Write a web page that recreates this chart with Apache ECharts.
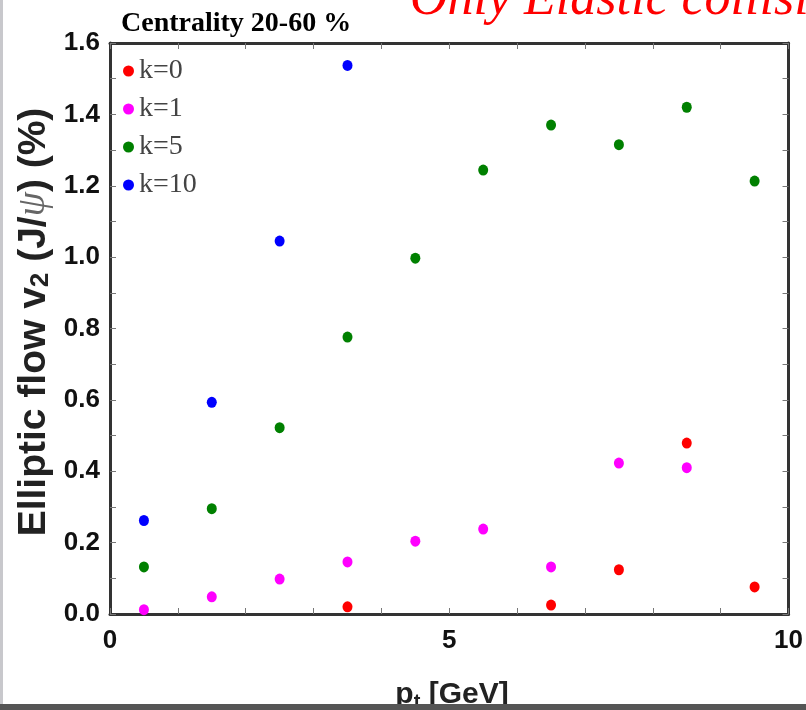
<!DOCTYPE html>
<html>
<head>
<meta charset="utf-8">
<script src="https://cdn.jsdelivr.net/npm/echarts@6/dist/echarts.min.js"></script>
<style>
  html, body { margin: 0; padding: 0; background: #fff; }
  #chart { width: 806px; height: 710px; }
</style>
</head>
<body>
<div id="chart"></div>
<script>
// J/psi elliptic flow vs transverse momentum, four coupling values k
const seriesNames = ['k=0', 'k=1', 'k=5', 'k=10'];
const seriesColors = ['#ff0000', '#ff00ff', '#008000', '#0000ff'];

const k0Pt = [3.5, 6.5, 7.5, 8.5, 9.5];
const k0V2 = [0.020, 0.025, 0.124, 0.479, 0.076];

const k1Pt = [0.5, 1.5, 2.5, 3.5, 4.5, 5.5, 6.5, 7.5, 8.5];
const k1V2 = [0.012, 0.048, 0.098, 0.146, 0.204, 0.238, 0.132, 0.423, 0.410];

const k5Pt = [0.5, 1.5, 2.5, 3.5, 4.5, 5.5, 6.5, 7.5, 8.5, 9.5];
const k5V2 = [0.132, 0.295, 0.522, 0.776, 0.997, 1.244, 1.370, 1.315, 1.420, 1.213];

const k10Pt = [0.5, 1.5, 2.5, 3.5];
const k10V2 = [0.262, 0.593, 1.045, 1.537];

const xTickLabels = [0, 5, 10];
const yTickLabels = ['0.0', '0.2', '0.4', '0.6', '0.8', '1.0', '1.2', '1.4', '1.6'];

const ptSets = [k0Pt, k1Pt, k5Pt, k10Pt];
const v2Sets = [k0V2, k1V2, k5V2, k10V2];

const frameColor = '#333';
const tickColor = '#777';
const labelFont = { fontFamily: 'Liberation Sans', fontWeight: 'bold', fontSize: 26, color: '#111' };

function xAxisDef(pos, showLabels) {
  return {
    type: 'value', position: pos, min: 0, max: 10, interval: 1,
    axisLine: { show: true, onZero: false, lineStyle: { color: frameColor, width: 3 } },
    axisTick: { show: true, inside: true, length: 6, lineStyle: { color: tickColor, width: 1 } },
    axisLabel: Object.assign({
      show: showLabels, margin: 14,
      formatter: v => (xTickLabels.indexOf(Math.round(v)) >= 0 && Math.abs(v - Math.round(v)) < 1e-6) ? String(Math.round(v)) : ''
    }, labelFont),
    splitLine: { show: false }
  };
}

function yAxisDef(pos, showLabels) {
  return {
    type: 'value', position: pos, min: 0, max: 1.6, interval: 0.1,
    axisLine: { show: true, onZero: false, lineStyle: { color: frameColor, width: 3 } },
    axisTick: { show: true, inside: true, length: 6, lineStyle: { color: tickColor, width: 1 } },
    axisLabel: Object.assign({
      show: showLabels, margin: 10,
      formatter: v => {
        const s = v.toFixed(1);
        return yTickLabels.indexOf(s) >= 0 ? s : '';
      }
    }, labelFont),
    splitLine: { show: false }
  };
}

const series = seriesNames.map((name, i) => ({
  name: name,
  type: 'scatter',
  xAxisIndex: 0,
  yAxisIndex: 0,
  symbol: 'circle',
  symbolSize: [10, 11],
  itemStyle: { color: seriesColors[i], opacity: 1 },
  data: ptSets[i].map((x, j) => [x, v2Sets[i][j]])
}));

const chart = echarts.init(document.getElementById('chart'), null, { renderer: 'canvas' });
chart.setOption({
  animation: false,
  backgroundColor: '#fff',
  title: {
    text: 'Centrality 20-60 %',
    left: 116, top: 5,
    textStyle: { fontFamily: 'Liberation Serif', fontWeight: 'bold', fontSize: 28, color: '#000' }
  },
  legend: {
    orient: 'vertical', left: 118, top: 52,
    itemWidth: 11, itemHeight: 11, itemGap: 10,
    icon: 'circle',
    data: seriesNames,
    textStyle: { fontFamily: 'Liberation Serif', fontSize: 28, color: '#444' }
  },
  grid: { left: 110, right: 16, top: 43, bottom: 96, containLabel: false },
  xAxis: [xAxisDef('bottom', true), xAxisDef('top', false)],
  yAxis: [yAxisDef('left', true), yAxisDef('right', false)],
  series: series,
  graphic: [
    {
      type: 'text', left: 410, top: -26, z: 10,
      style: {
        text: 'Only Elastic collisions',
        fontFamily: 'Liberation Serif', fontStyle: 'italic', fontSize: 52,
        fill: '#ff0000'
      }
    },
    {
      type: 'text', x: 34, y: 322, rotation: Math.PI / 2, z: 10,
      style: {
        text: '{b|Elliptic flow v}{s|2}{b| (J/}{p|ψ}{b|) (%)}',
        textAlign: 'center', textVerticalAlign: 'middle',
        rich: {
          b: { fontFamily: 'Liberation Sans', fontWeight: 'bold', fontSize: 39, fill: '#222' },
          s: { fontFamily: 'Liberation Sans', fontWeight: 'bold', fontSize: 26, fill: '#222', padding: [14, 0, 0, 0] },
          p: { fontFamily: 'Liberation Serif', fontStyle: 'italic', fontSize: 39, fill: '#666' }
        }
      }
    },
    {
      type: 'text', x: 452, y: 695, z: 10,
      style: {
        text: '{b|p}{s|t}{b| [GeV]}',
        textAlign: 'center', textVerticalAlign: 'middle',
        rich: {
          b: { fontFamily: 'Liberation Sans', fontWeight: 'bold', fontSize: 30, fill: '#222' },
          s: { fontFamily: 'Liberation Sans', fontWeight: 'bold', fontSize: 20, fill: '#222', padding: [14, 0, 0, 0] }
        }
      }
    },
    { type: 'rect', shape: { x: 0, y: 0, width: 3, height: 710 }, style: { fill: '#c8c8cc' }, z: 20 },
    { type: 'rect', shape: { x: 0, y: 704, width: 806, height: 6 }, style: { fill: '#555' }, z: 20 }
  ]
});
</script>
</body>
</html>
